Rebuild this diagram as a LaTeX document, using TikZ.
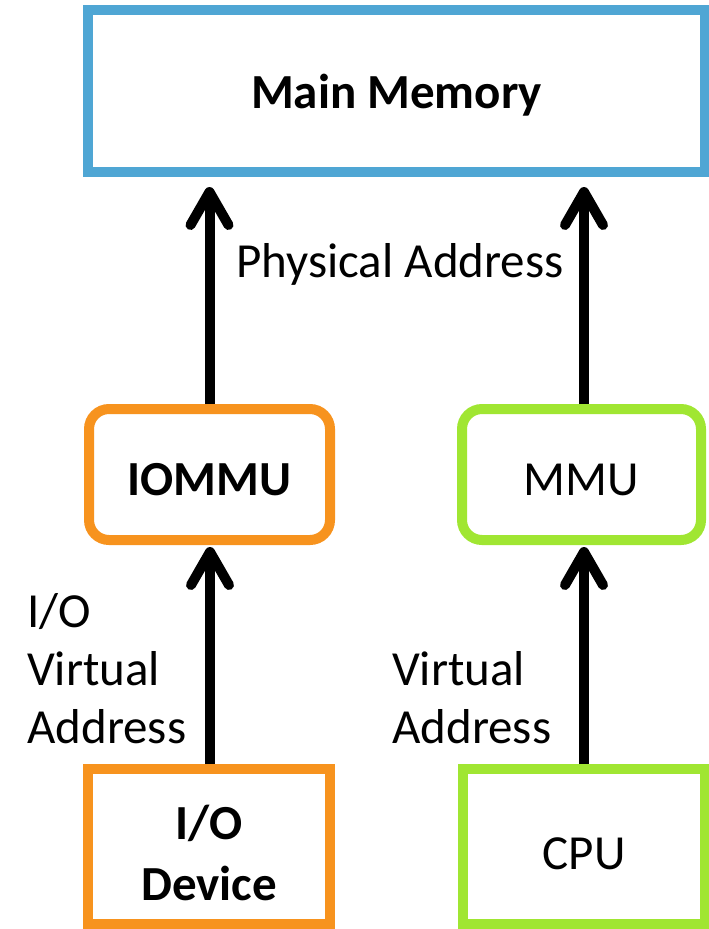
\documentclass[tikz,border=0pt]{standalone}
\usepackage{fontspec}
\setmainfont{Carlito}
\usetikzlibrary{arrows.meta, calc}
\usepackage{xcolor}
\definecolor{memblue}{RGB}{79,166,212}
\definecolor{ioorange}{RGB}{247,147,30}
\definecolor{cpugreen}{RGB}{160,230,50}

\begin{document}
\begin{tikzpicture}[x=1pt, y=-1pt,
    box/.style={draw, line width=10pt, fill=white, inner sep=0pt, align=center,
        font=\fontsize{49}{59}\selectfont},
    boldbox/.style={box, font=\fontsize{49}{59}\selectfont\bfseries},
    addr/.style={inner sep=0pt, align=left, font=\fontsize{49}{58}\selectfont},
    flow/.style={line width=10pt, -{Straight Barb[length=33pt, width=38pt, round]}}]
    \useasboundingbox (0,0) rectangle (709,929);

    % Memory on top
    \node[boldbox, draw=memblue, minimum width=617pt, minimum height=162pt, text depth=-2pt] (mem) at (396.5,91) {Main Memory};

    % Translation units
    \node[boldbox, draw=ioorange, rounded corners=20pt, minimum width=241pt, minimum height=131pt, text height=41pt, text depth=0pt] (iommu) at (209.5,474.5) {IOMMU};
    \node[box, draw=cpugreen, rounded corners=20pt, minimum width=239pt, minimum height=131pt, text height=41pt, text depth=0pt] (mmu) at (581.5,474.5) {MMU};

    % Requesters at the bottom
    \node[boldbox, draw=ioorange, minimum width=242pt, minimum height=155pt] (dev) at (209,846.5) {\rule{0pt}{48pt}I/O\\[2pt]Device};
    \node[box, draw=cpugreen, minimum width=242pt, minimum height=155pt, text height=46pt, text depth=0pt] (cpu) at (584,846.5) {CPU};

    % Address arrows
    \draw[flow, shorten >=10pt] (iommu.north) -- (iommu.north |- mem.south);
    \draw[flow, shorten >=10pt] ($(mmu.north)+(2.5,0)$) coordinate (mmutop) -- (mmutop |- mem.south);
    \draw[flow, shorten >=2pt] ($(dev.north)+(1,0)$) coordinate (devtop) -- (devtop |- iommu.south);
    \draw[flow, shorten >=2pt] (cpu.north) -- (cpu.north |- mmu.south);

    % Labels
    \node[addr, anchor=base] (phys) at (400,277) {Physical Address};
    \node[addr, anchor=base west] (iova) at (27,743) {I/O\\Virtual\\Address};
    \node[addr, anchor=base west] (va) at (392,743) {Virtual\\Address};
\end{tikzpicture}
\end{document}
